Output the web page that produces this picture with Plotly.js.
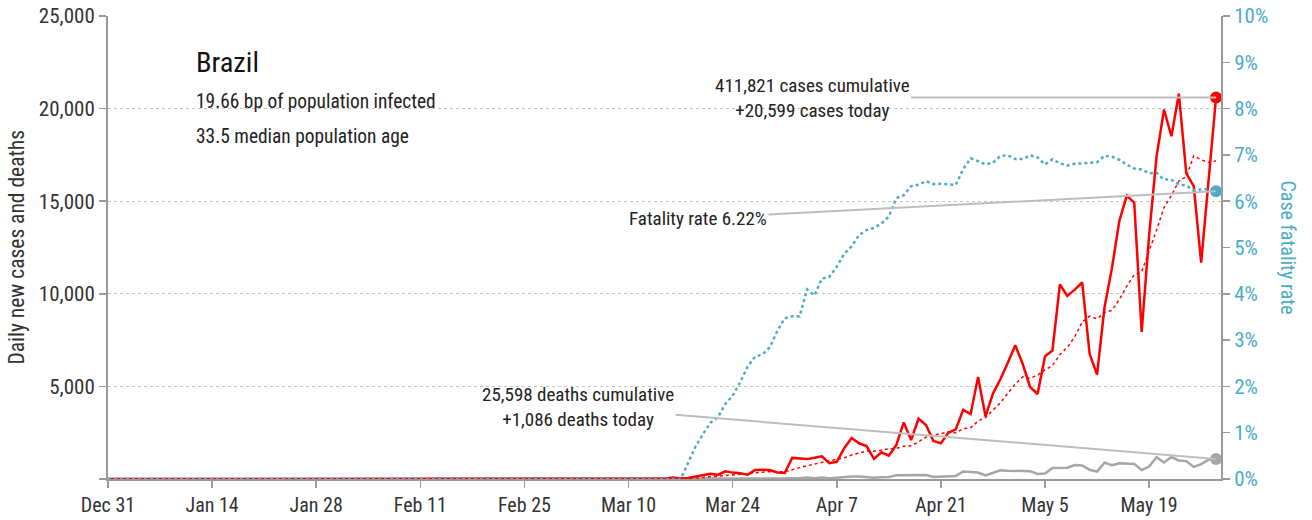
<!DOCTYPE html>
<html>
<head>
<meta charset="utf-8">
<script src="https://cdn.plot.ly/plotly-3.0.1.min.js"></script>
<style>html,body{margin:0;padding:0;background:#fff;}#chart{width:1312px;height:520px;}</style>
</head>
<body>
<div id="chart"></div>
<script>
// ---- data (daily, starting 2019-12-31) ----
const startDate = '2019-12-31';

// daily new cases
const newCases = [
  0,0,0,0,0,0,0,0,0,0, 0,0,0,0,0,0,0,0,0,0, 0,0,0,0,0,0,0,0,0,0,
  0,0,0,0,0,0,0,0,0,0, 0,0,0,0,0,0,0,0,0,0, 0,0,0,0,0,0,0,
  1,0,0,0,
  1,0,0,0,1,5,5,6,0,6,
  9,18,25,21,23,79,34,57,137,193,
  283,224,418,345,310,232,482,502,487,352,323,
  1138,1119,1074,1146,1222,852,926,1661,2210,1930,
  1781,1089,1442,1261,1832,3058,2105,3257,2917,2055,
  1927,2498,2678,3735,3503,5514,3379,4613,5385,6276,
  7218,6209,4970,4588,6633,6935,10503,9888,10222,10611,
  6760,5632,9258,11385,13944,15305,14919,7938,13140,17408,
  19951,18508,20803,16508,15813,11687,16324,20599
];

// 7-day average of new cases
const avgCases = [
  0,0,0,0,0,0,0,0,0,0, 0,0,0,0,0,0,0,0,0,0, 0,0,0,0,0,0,0,0,0,0,
  0,0,0,0,0,0,0,0,0,0, 0,0,0,0,0,0,0,0,0,0, 0,0,0,0,0,0,0,
  0.1,0.1,0.1,0.1,
  0.3,0.3,0.3,0.1,0.3,1.0,1.7,2.4,2.4,3.3,
  4.6,7.0,9.9,12.1,14.6,25.9,29.9,36.7,53.7,77.7,
  115.1,143.9,192.3,236.7,272.9,286.4,327.7,359.0,396.6,387.1,384.0,
  502.3,629.0,713.6,805.6,910.6,982.0,1068.1,1142.9,1298.7,1421.0,
  1511.7,1492.7,1577.0,1624.9,1649.3,1770.4,1795.4,2006.3,2267.4,2355.0,
  2450.1,2545.3,2491.0,2723.9,2759.0,3130.0,3319.1,3702.9,4115.3,4629.3,
  5126.9,5513.4,5435.7,5608.4,5897.0,6118.4,6722.3,7103.7,7677.0,8482.9,
  8793.1,8650.1,8982.0,9108.0,9687.4,10413.6,11029.0,11197.3,12269.9,13434.1,
  14657.9,15309.9,16095.3,16322.3,17447.3,17239.7,17084.9,17177.4
];

// daily new deaths
const newDeaths = [
  0,0,0,0,0,0,0,0,0,0, 0,0,0,0,0,0,0,0,0,0, 0,0,0,0,0,0,0,0,0,0,
  0,0,0,0,0,0,0,0,0,0, 0,0,0,0,0,0,0,0,0,0, 0,0,0,0,0,0,0,
  0,0,0,0,
  0,0,0,0,0,0,0,0,0,0,
  0,0,0,0,0,0,0,1,2,3,
  5,4,10,9,12,13,18,15,19,25,23,
  42,39,84,35,86,41,67,114,133,141,
  115,68,99,105,204,204,188,217,213,108,
  125,154,165,407,357,346,189,338,474,449,
  435,428,421,275,296,600,615,610,751,730,
  496,396,881,749,844,824,816,485,674,1179,
  888,1188,1001,965,653,807,1039,1086
];

// case fatality rate, %
const fatalityRate = [
  0,0,0,0,0,0,0,0,0,0, 0,0,0,0,0,0,0,0,0,0, 0,0,0,0,0,0,0,0,0,0,
  0,0,0,0,0,0,0,0,0,0, 0,0,0,0,0,0,0,0,0,0, 0,0,0,0,0,0,0,
  0,0,0,0,
  0,0,0,0,0,0,0,0,0,0,
  0,0,0,0,0,0,0,0.344,0.701,0.966,
  1.217,1.330,1.617,1.798,2.090,2.425,2.642,2.692,2.843,3.195,3.472,
  3.516,3.511,4.096,3.964,4.330,4.367,4.587,4.863,5.023,5.270,
  5.377,5.423,5.517,5.668,6.064,6.130,6.324,6.356,6.432,6.369,
  6.375,6.363,6.351,6.694,6.925,6.864,6.795,6.831,6.979,6.993,
  6.911,6.910,6.991,6.945,6.793,6.905,6.817,6.769,6.810,6.815,
  6.837,6.843,6.982,6.958,6.896,6.790,6.705,6.686,6.605,6.616,
  6.468,6.465,6.361,6.337,6.240,6.261,6.266,6.216
];

const countryName = 'Brazil';
const infoLines = ['19.66 bp of population infected', '33.5 median population age'];
const casesLabel = '411,821 cases cumulative<br>+20,599 cases today';
const deathsLabel = '25,598 deaths cumulative<br>+1,086 deaths today';
const fatalityLabel = 'Fatality rate 6.22%';
const leftTickVals = [0, 5000, 10000, 15000, 20000, 25000];
const leftTickText = ['', '5,000', '10,000', '15,000', '20,000', '25,000'];

// ---- build date axis ----
const dates = [];
{
  const d0 = new Date(startDate + 'T00:00:00Z');
  for (let i = 0; i < newCases.length; i++) {
    const d = new Date(d0.getTime() + i * 86400000);
    dates.push(d.toISOString().slice(0, 10));
  }
}
const last = dates.length - 1;

const FONT = '"Roboto Condensed", "Liberation Sans Narrow", sans-serif';
const RED = '#ff0000', GREY = '#a6a6a6', CYAN = '#4bacc6';

const traces = [
  {x: dates, y: newDeaths, type: 'scatter', mode: 'lines', line: {color: GREY, width: 2.5}, hoverinfo: 'skip'},
  {x: dates, y: fatalityRate, yaxis: 'y2', type: 'scatter', mode: 'lines', line: {color: CYAN, width: 2.5, dash: 'dot'}, hoverinfo: 'skip'},
  {x: dates, y: newCases, type: 'scatter', mode: 'lines', line: {color: RED, width: 2.5}, hoverinfo: 'skip'},
  {x: dates, y: avgCases, type: 'scatter', mode: 'lines', line: {color: RED, width: 1.5, dash: 'dot'}, hoverinfo: 'skip'},
  {x: [dates[last]], y: [newCases[last]], type: 'scatter', mode: 'markers', marker: {color: RED, size: 12}, hoverinfo: 'skip'},
  {x: [dates[last]], y: [fatalityRate[last]], yaxis: 'y2', type: 'scatter', mode: 'markers', marker: {color: CYAN, size: 12}, hoverinfo: 'skip'},
  {x: [dates[last]], y: [newDeaths[last]], type: 'scatter', mode: 'markers', marker: {color: GREY, size: 12}, hoverinfo: 'skip'}
];

const arrowCommon = {showarrow: true, arrowhead: 0, arrowwidth: 2, arrowcolor: '#bdbdbd', standoff: 0, axref: 'pixel', ayref: 'pixel', font: {family: FONT, size: 19, color: '#222'}, align: 'center'};

const layout = {
  width: 1312, height: 520,
  margin: {l: 108, r: 91, t: 16, b: 41, pad: 0},
  paper_bgcolor: '#fff', plot_bgcolor: '#fff',
  showlegend: false,
  font: {family: FONT, size: 19, color: '#333'},
  xaxis: {
    type: 'date', range: [startDate, dates[last] + ' 16:00'],
    tick0: startDate, dtick: 14 * 86400000, tickformat: '%b %-d',
    showgrid: false, zeroline: false, showline: true, linecolor: '#9a9a9a', linewidth: 2,
    ticks: 'outside', ticklen: 7, tickwidth: 1.5, tickcolor: '#9a9a9a',
    tickfont: {family: FONT, size: 20, color: '#333'}, fixedrange: true
  },
  yaxis: {
    range: [0, 25000], tickvals: leftTickVals, ticktext: leftTickText,
    showgrid: true, gridcolor: '#c4c4c4', gridwidth: 1, griddash: 'dot',
    zeroline: false, showline: true, linecolor: '#9a9a9a', linewidth: 2,
    ticks: 'outside', ticklen: 7, tickwidth: 1.5, tickcolor: '#9a9a9a',
    tickfont: {family: FONT, size: 21, color: '#333'}, fixedrange: true
  },
  yaxis2: {
    overlaying: 'y', side: 'right', range: [0, 10], dtick: 1, ticksuffix: '%',
    showgrid: false, zeroline: false, showline: true, linecolor: '#9a9a9a', linewidth: 2,
    ticks: 'outside', ticklen: 7, tickwidth: 1.5, tickcolor: '#9a9a9a',
    tickfont: {family: FONT, size: 21, color: CYAN}, fixedrange: true
  },
  annotations: [
    {xref: 'paper', yref: 'paper', x: 0.0773, y: 0.9006, xanchor: 'left', yanchor: 'middle', showarrow: false,
     text: countryName, font: {family: FONT, size: 28.5, color: '#111'}},
    {xref: 'paper', yref: 'paper', x: 0.0773, y: 0.8164, xanchor: 'left', yanchor: 'middle', showarrow: false,
     text: infoLines[0], font: {family: FONT, size: 19.4, color: '#222'}},
    {xref: 'paper', yref: 'paper', x: 0.0773, y: 0.7387, xanchor: 'left', yanchor: 'middle', showarrow: false,
     text: infoLines[1], font: {family: FONT, size: 19.4, color: '#222'}},
    Object.assign({x: dates[last], y: newCases[last], xref: 'x', yref: 'y', ax: -404, ay: 0, text: casesLabel}, arrowCommon),
    Object.assign({x: dates[last], y: fatalityRate[last], xref: 'x', yref: 'y2', ax: -518, ay: 27, text: fatalityLabel}, arrowCommon),
    Object.assign({x: dates[last], y: newDeaths[last], xref: 'x', yref: 'y', ax: -638, ay: -52, text: deathsLabel}, arrowCommon),
    {xref: 'paper', yref: 'paper', x: -0.0818, y: 0.5, xanchor: 'center', yanchor: 'middle', showarrow: false,
     textangle: -90, text: 'Daily new cases and deaths', font: {family: FONT, size: 21.5, color: '#333'}},
    {xref: 'paper', yref: 'paper', x: 1.0602, y: 0.5, xanchor: 'center', yanchor: 'middle', showarrow: false,
     textangle: 90, text: 'Case fatality rate', font: {family: FONT, size: 20, color: CYAN}}
  ]
};

Plotly.newPlot('chart', traces, layout, {staticPlot: true, displayModeBar: false});
</script>
</body>
</html>
